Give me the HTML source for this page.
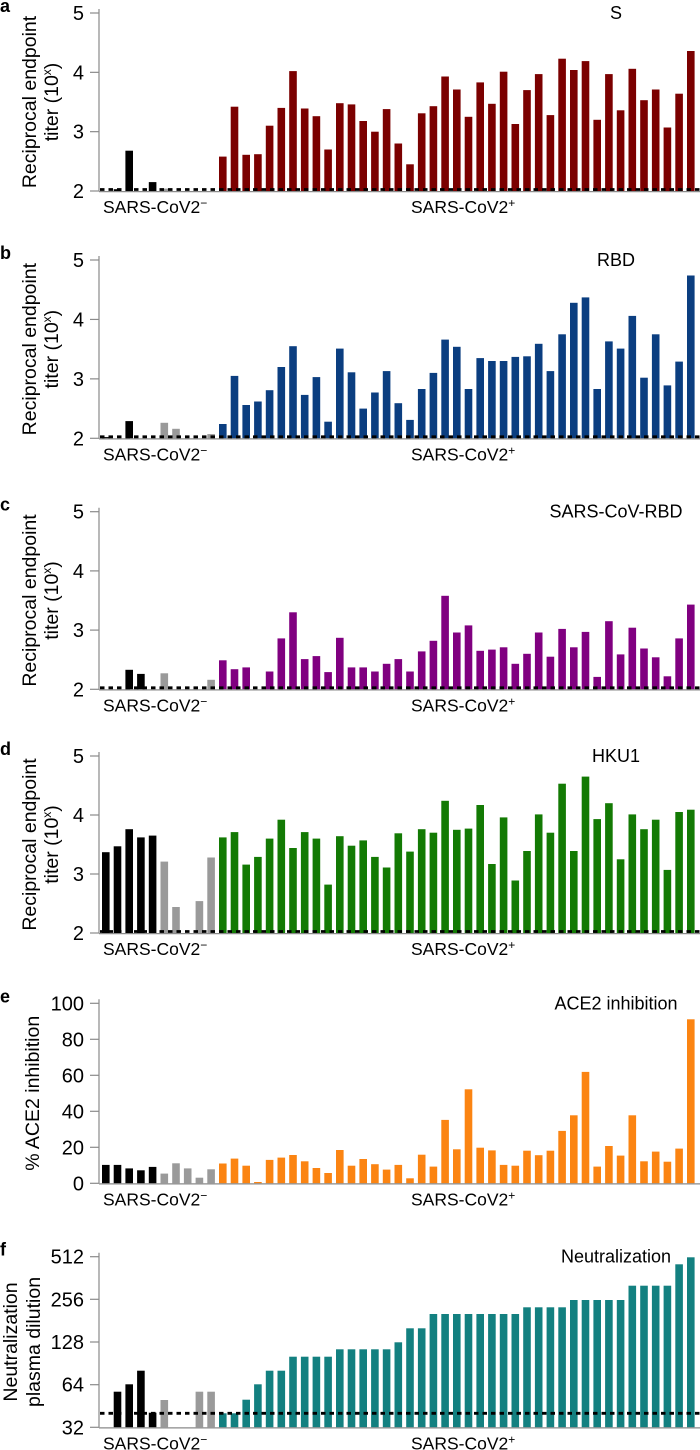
<!DOCTYPE html>
<html><head><meta charset="utf-8"><style>
html,body{margin:0;padding:0;background:#fff;}
svg{display:block;font-family:"Liberation Sans",Arial,sans-serif;}
</style></head><body>
<svg id="s" width="700" height="1450" xmlns="http://www.w3.org/2000/svg"></svg>
<script>
const S=document.getElementById('s');let h='';
const P=11.7,W=7.6,NX=102,PX=219;
function bar(x,yt,yb,c){if(yb-yt<0.3)return;h+=`<rect x="${x.toFixed(1)}" y="${yt.toFixed(1)}" width="${W}" height="${(yb-yt).toFixed(1)}" fill="${c}"/>`;}
function txt(x,y,s,sz,anc,extra){h+=`<text x="${x}" y="${y}" font-size="${sz}" text-anchor="${anc||'start'}" ${extra||''}>${s}</text>`;}
function axis(top,base,ticks,labels,title,ylab,letter,dashY,pos,neg,col,lx){
  neg.forEach(([i,y,c])=>bar(NX+i*P,y,base,c));
  pos.forEach((y,j)=>bar(PX+j*P,y,base,col));
  h+=`<line x1="99" y1="${top-4}" x2="99" y2="${base}" stroke="#8a8a8a" stroke-width="1.2"/>`;
  h+=`<line x1="99" y1="${base+0.6}" x2="700" y2="${base+0.6}" stroke="#8a8a8a" stroke-width="1.2"/>`;
  ticks.forEach((t,k)=>{h+=`<line x1="90" y1="${t}" x2="99" y2="${t}" stroke="#8a8a8a" stroke-width="1.2"/>`;txt(84,t+7,labels[k],20,'end');});
  if(dashY!==null)h+=`<line x1="100" y1="${dashY}" x2="700" y2="${dashY}" stroke="#000" stroke-width="2.8" stroke-dasharray="4.5,4"/>`;
  txt(616,top+6,title,18,'middle');
  txt(103,base+22,'SARS-CoV2<tspan font-size="12" dy="-6">−</tspan>',17.5);
  txt(411,base+22,'SARS-CoV2<tspan font-size="12" dy="-6">+</tspan>',17.5);
  txt(0,top-1,letter,18,'start','font-weight="bold"');
  const mid=(top+base)/2;
  ylab.forEach((l,k)=>txt(0,0,l,19.5,'middle',`transform="translate(${lx[k]},${mid}) rotate(-90)"`));
}
const K='#000',G='#9a9a9a';
function tit(y5,y2,vals){const s=(y2-y5)/3;return vals.map(v=>y2-(v-2)*s);}
const TL=['5','4','3','2'];const YL=['Reciprocal endpoint','titer (10<tspan font-size="12" dy="-7">x</tspan><tspan dy="7">)</tspan>'];
const LX=[36,58];
function tp(y5,y2){const s=(y2-y5)/3;return [y5,y5+s,y5+2*s,y2];}
function negs(y5,y2,arr){const s=(y2-y5)/3;return arr.map(([i,v,c])=>[i,y2-(v-2)*s,c]);}
let a=[2.58,3.42,2.61,2.62,3.10,3.40,4.02,3.39,3.26,2.70,3.48,3.46,3.18,3.00,3.38,2.80,2.45,3.31,3.43,3.93,3.71,3.25,3.83,3.47,4.01,3.13,3.70,3.97,3.28,4.23,4.04,4.19,3.20,3.97,3.36,4.06,3.53,3.71,3.07,3.64,4.36];
axis(13,191,tp(13,191),TL,'S',YL,'a',189.5,tit(13,191,a),negs(13,191,[[1,2.03,K],[2,2.68,K],[4,2.15,K],[5,2.04,G]]),'#7b0000',LX);
let b=[2.24,3.05,2.56,2.62,2.81,3.20,3.55,2.73,3.03,2.28,3.51,3.11,2.50,2.77,3.13,2.59,2.31,2.83,3.10,3.66,3.54,2.83,3.35,3.30,3.30,3.37,3.38,3.59,3.13,3.75,4.28,4.37,2.83,3.63,3.51,4.06,3.02,3.75,2.89,3.29,4.74];
axis(260,438.3,tp(260,438.3),TL,'RBD',YL,'b',436.8,tit(260,438.3,b),negs(260,438.3,[[0,2.02,K],[2,2.29,K],[5,2.26,G],[6,2.16,G],[9,2.07,G]]),'#0b3e80',LX);
let c=[2.49,2.34,2.37,2.0,2.30,2.86,3.30,2.51,2.56,2.29,2.87,2.37,2.37,2.30,2.43,2.51,2.30,2.64,2.82,3.58,2.96,3.08,2.65,2.67,2.71,2.43,2.60,2.96,2.55,3.02,2.71,2.97,2.21,3.15,2.59,3.04,2.69,2.54,2.22,2.86,3.43];
axis(511.7,689.3,tp(511.7,689.3),TL,'SARS-CoV-RBD',YL,'c',687.8,tit(511.7,689.3,c),negs(511.7,689.3,[[2,2.33,K],[3,2.26,K],[5,2.27,G],[9,2.16,G]]),'#800080',LX);
let d=[3.62,3.71,3.16,3.29,3.60,3.92,3.44,3.71,3.60,2.82,3.64,3.48,3.57,3.29,3.11,3.69,3.38,3.76,3.70,4.24,3.75,3.77,4.17,3.17,3.96,2.89,3.39,4.01,3.70,4.53,3.39,4.65,3.93,4.20,3.25,4.01,3.76,3.92,3.07,4.05,4.09];
axis(756,933,tp(756,933),TL,'HKU1',YL,'d',931.5,tit(756,933,d),negs(756,933,[[0,3.37,K],[1,3.47,K],[2,3.76,K],[3,3.62,K],[4,3.65,K],[5,3.21,G],[6,2.44,G],[8,2.54,G],[9,3.28,G]]),'#137a04',LX);
const e0=1183.3,es=1.8;
function ep(v){return e0-v*es;}
let e=[11,13.7,9.8,0.7,13,14.3,15.7,12.2,8.5,5.7,18.5,9.8,13.5,10.6,7.6,10.2,2.8,15.9,9.3,35.2,18.9,52.2,19.8,18.3,10.2,9.8,18.1,15.6,18.1,29.1,37.8,61.9,9.3,20.7,15.4,37.8,12.2,17.6,12,19.3,91.1];
let en=[[0,10.2,K],[1,10.2,K],[2,8.3,K],[3,7.2,K],[4,9.1,K],[5,5.4,G],[6,11.1,G],[7,8.3,G],[8,3.1,G],[9,7.8,G]].map(([i,v,cc])=>[i,ep(v),cc]);
axis(1003.3,e0,[0,20,40,60,80,100].map(ep),['0','20','40','60','80','100'],'ACE2 inhibition',['% ACE2 inhibition'],'e',null,e.map(ep),en,'#fb8412',[39]);
const fz=z=>970+z/3;
let fv=[1330,1330,1289,1243,1202,1202,1160,1160,1160,1160,1138,1138,1138,1138,1138,1117,1075,1075,1032,1032,1032,1032,1032,1032,1032,1032,1012,1012,1012,1012,990,990,990,990,990,947,947,947,947,883,862].map(fz);
let fn=[[1,1265,K],[2,1243,K],[3,1202,K],[4,1328,K],[5,1290,G],[8,1265,G],[9,1265,G]].map(([i,z,cc])=>[i,fz(z),cc]);
axis(1256.7,1427.3,[1256.7,1299.3,1342,1384.7,1427.3].reverse(),['32','64','128','256','512'],'Neutralization',['Neutralization','plasma dilution'],'f',fz(1330),fv,fn,'#138080',[17,40]);
S.innerHTML=h;
</script>
</body></html>
